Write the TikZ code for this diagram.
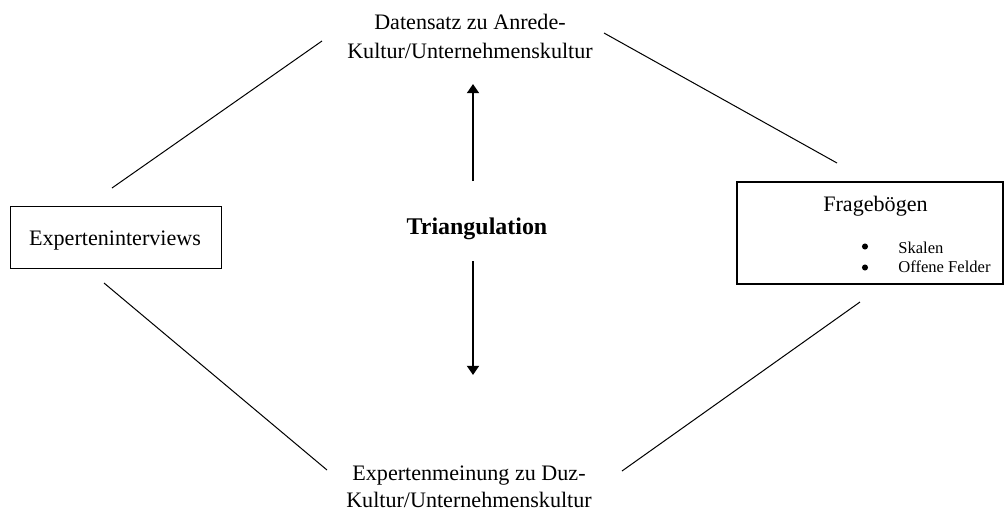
\documentclass[tikz,border=0pt]{standalone}
\usepackage{fontspec}
\setmainfont{Liberation Serif}
\usetikzlibrary{arrows.meta}
\tikzset{
  triang box/.style={
    draw, line width=0.6pt, inner sep=0pt
  },
  triang text/.style={
    font=\fontsize{12}{15.7}\selectfont, align=center, inner sep=0pt
  },
  triang item/.style={
    font=\fontsize{9}{10}\selectfont, inner sep=0pt
  },
  triang dot/.style={
    circle, fill, inner sep=0pt, minimum size=3.3pt
  },
  triang arr/.style={-{Triangle[length=5pt, width=6.5pt]}, line width=1.1pt},
  triang link/.style={line width=0.55pt}
}
\begin{document}
\begin{tikzpicture}[x=0.543pt, y=-0.543pt]
  \useasboundingbox (0,0) rectangle (1005,512);

  \node[triang text] (daten) at (470,36)
    {Datensatz zu Anrede-\\Kultur/Unternehmenskultur};
  \node[triang text, font=\fontsize{12}{14.7}\selectfont] (meinung) at (469,487)
    {Expertenmeinung zu Duz-\\Kultur/Unternehmenskultur};

  \node[triang box, minimum width=115pt, minimum height=34pt] (interviews)
    at (116,237.5) {};
  \node[triang text, anchor=base] (interviewstext) at (115,245)
    {Experteninterviews};

  \node[triang box, minimum width=144.4pt, minimum height=55.4pt] (frage)
    at (870,233) {};
  \node[triang text, anchor=base] (fragetitel) at (875.5,211) {Fragebögen};
  \node[triang dot] (bullet1) at (865,246.5) {};
  \node[triang item, anchor=base west] (skalen) at (898,253) {Skalen};
  \node[triang dot] (bullet2) at (865,267.5) {};
  \node[triang item, anchor=base west] (felder) at (898,272) {Offene Felder};

  \node[triang text, font=\fontsize{13}{15}\selectfont\bfseries, anchor=base]
    (triang) at (477,234) {Triangulation};

  % Pfeile
  \coordinate (obenfuss) at (473,181);
  \coordinate (obenspitze) at (473,84);
  \coordinate (untenfuss) at (473,261);
  \coordinate (untenspitze) at (473,375);
  \draw[triang arr] (obenfuss) -- (obenspitze);
  \draw[triang arr] (untenfuss) -- (untenspitze);

  % Verbindungslinien
  \coordinate (lo1) at (112,188);  \coordinate (lo2) at (322,41);
  \coordinate (ro1) at (604,33);   \coordinate (ro2) at (837,163);
  \coordinate (lu1) at (104,283);  \coordinate (lu2) at (327,470);
  \coordinate (ru1) at (860,302);  \coordinate (ru2) at (622,471);
  \draw[triang link] (lo1) -- (lo2);
  \draw[triang link] (ro1) -- (ro2);
  \draw[triang link] (lu1) -- (lu2);
  \draw[triang link] (ru1) -- (ru2);
\end{tikzpicture}
\end{document}
